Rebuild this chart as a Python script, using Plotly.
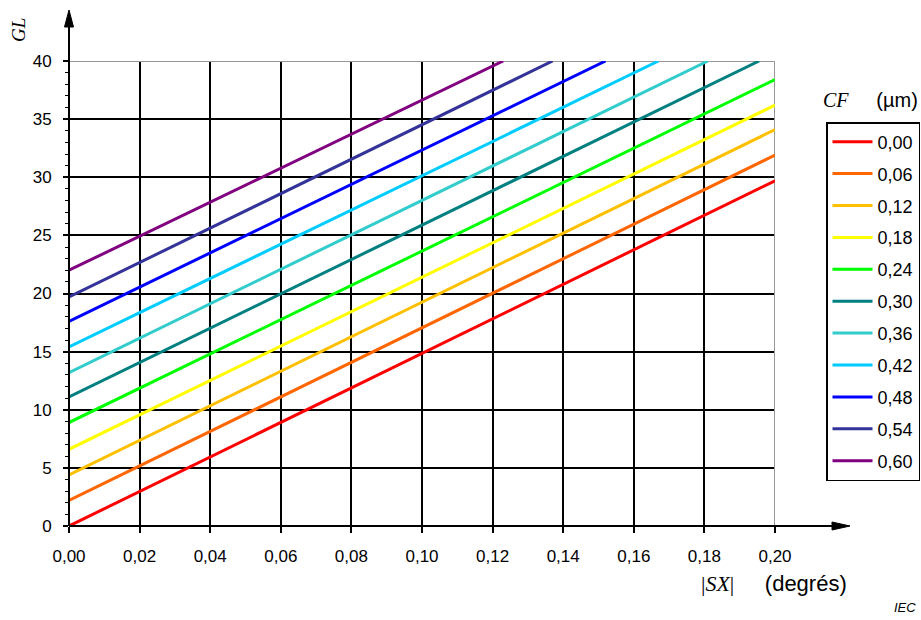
import plotly.graph_objects as go

# ---- data ----
CF_LABELS = ["0,00", "0,06", "0,12", "0,18", "0,24", "0,30", "0,36", "0,42", "0,48", "0,54", "0,60"]
SX_START = [0.0] * 11
GL_START = [0.0, 2.2, 4.4, 6.6, 8.9, 11.1, 13.2, 15.4, 17.6, 19.7, 22.0]
SX_END = [0.20, 0.20, 0.20, 0.20, 0.20, 0.1955, 0.181, 0.167, 0.152, 0.137, 0.123]
GL_END = [29.7, 31.9, 34.1, 36.2, 38.4, 40.0, 40.0, 40.0, 40.0, 40.0, 40.0]
COLORS = ["#FF0000", "#FF6600", "#FFC000", "#FFFF00", "#00FF00", "#008080",
          "#33CCCC", "#00CCFF", "#0000FF", "#333399", "#800080"]

X_TICKS = [0.00, 0.02, 0.04, 0.06, 0.08, 0.10, 0.12, 0.14, 0.16, 0.18, 0.20]
Y_TICKS = [0, 5, 10, 15, 20, 25, 30, 35, 40]

SANS = "Liberation Sans, Arial, sans-serif"
SERIF = "Liberation Serif, Times New Roman, serif"

W, H = 921, 620
L, R, T, B = 69, 921 - 775, 61, 620 - 526
PW, PH = W - L - R, H - T - B


def px_x(p):
    return (p - L) / PW


def px_y(p):
    return (H - B - p) / PH


fig = go.Figure()
for i, lab in enumerate(CF_LABELS):
    fig.add_trace(go.Scatter(
        x=[SX_START[i], SX_END[i]], y=[GL_START[i], GL_END[i]],
        mode="lines", name=lab, legendgroup=lab,
        line=dict(color=COLORS[i], width=3),
    ))

shapes = [
    # gray top / right frame
    dict(type="line", xref="x", yref="y", x0=0, x1=0.20, y0=40, y1=40,
         line=dict(color="#999999", width=2), layer="between"),
    dict(type="line", xref="x", yref="y", x0=0.20, x1=0.20, y0=0, y1=40,
         line=dict(color="#999999", width=2), layer="between"),
    # axis lines with arrows
    dict(type="line", xref="paper", yref="paper", x0=0, x1=0, y0=0, y1=px_y(26),
         line=dict(color="black", width=2), layer="above"),
    dict(type="path", xref="paper", yref="paper",
         path=f"M {px_x(64.5)} {px_y(27)} L {px_x(69)} {px_y(10)} L {px_x(73.5)} {px_y(27)} Z",
         fillcolor="black", line=dict(color="black", width=1), layer="above"),
    dict(type="line", xref="paper", yref="paper", x0=0, x1=px_x(833), y0=0, y1=0,
         line=dict(color="black", width=2), layer="above"),
    dict(type="path", xref="paper", yref="paper",
         path=f"M {px_x(832)} {px_y(522)} L {px_x(850)} {px_y(526)} L {px_x(832)} {px_y(530)} Z",
         fillcolor="black", line=dict(color="black", width=1), layer="above"),
]

annotations = [
    dict(text="<i>GL</i>", xref="paper", yref="paper", x=px_x(18), y=px_y(30),
         xanchor="center", yanchor="middle",
         showarrow=False, textangle=-90, font=dict(family=SERIF, size=19, color="black")),
    dict(text="<span style='font-family:Liberation Serif'>|<i>SX</i>|</span>     (degrés)",
         xref="paper", yref="paper", x=px_x(699), y=px_y(583), xanchor="left", yanchor="middle",
         showarrow=False, font=dict(family=SANS, size=22, color="black")),
    dict(text="<i>IEC</i>", xref="paper", yref="paper", x=px_x(918), y=px_y(607),
         xanchor="right", yanchor="middle", showarrow=False,
         font=dict(family=SANS, size=13, color="black")),
    dict(text="<span style='font-family:Liberation Serif'><i>CF</i></span>     (µm)",
         xref="paper", yref="paper", x=px_x(920), y=px_y(100), xanchor="right", yanchor="middle",
         showarrow=False, font=dict(family=SANS, size=20, color="black")),
]

fig.update_layout(
    width=W, height=H,
    margin=dict(l=L, r=R, t=T, b=B, pad=0, autoexpand=False),
    paper_bgcolor="white", plot_bgcolor="white",
    separators=", ",
    font=dict(family=SANS, size=17, color="black"),
    showlegend=True,
    legend=dict(
        x=px_x(826), y=px_y(122), xanchor="left", yanchor="top",
        bordercolor="black", borderwidth=1.5, bgcolor="white",
        font=dict(family=SANS, size=18, color="black"),
        tracegroupgap=5.5, traceorder="grouped",
        itemwidth=40,
    ),
    shapes=shapes,
    annotations=annotations,
    xaxis=dict(
        range=[0, 0.20], tickvals=X_TICKS, tickformat=".2f",
        showgrid=True, gridcolor="black", gridwidth=1.8,
        zeroline=False, showline=False,
        ticks="outside", ticklen=6, tickwidth=1.5, tickcolor="black",
        ticklabelstandoff=9, fixedrange=True,
    ),
    yaxis=dict(
        range=[0, 40], tickvals=Y_TICKS,
        showgrid=True, gridcolor="black", gridwidth=1.8,
        zeroline=False, showline=False,
        ticks="outside", ticklen=5, tickwidth=1.5, tickcolor="black",
        ticklabelstandoff=8, fixedrange=True,
        minor=dict(dtick=1, ticks="outside", ticklen=3, tickwidth=1, tickcolor="black", showgrid=False),
    ),
)

fig.write_html("out.html", config={"displayModeBar": False},
               post_script="document.body.style.margin='0px';")
